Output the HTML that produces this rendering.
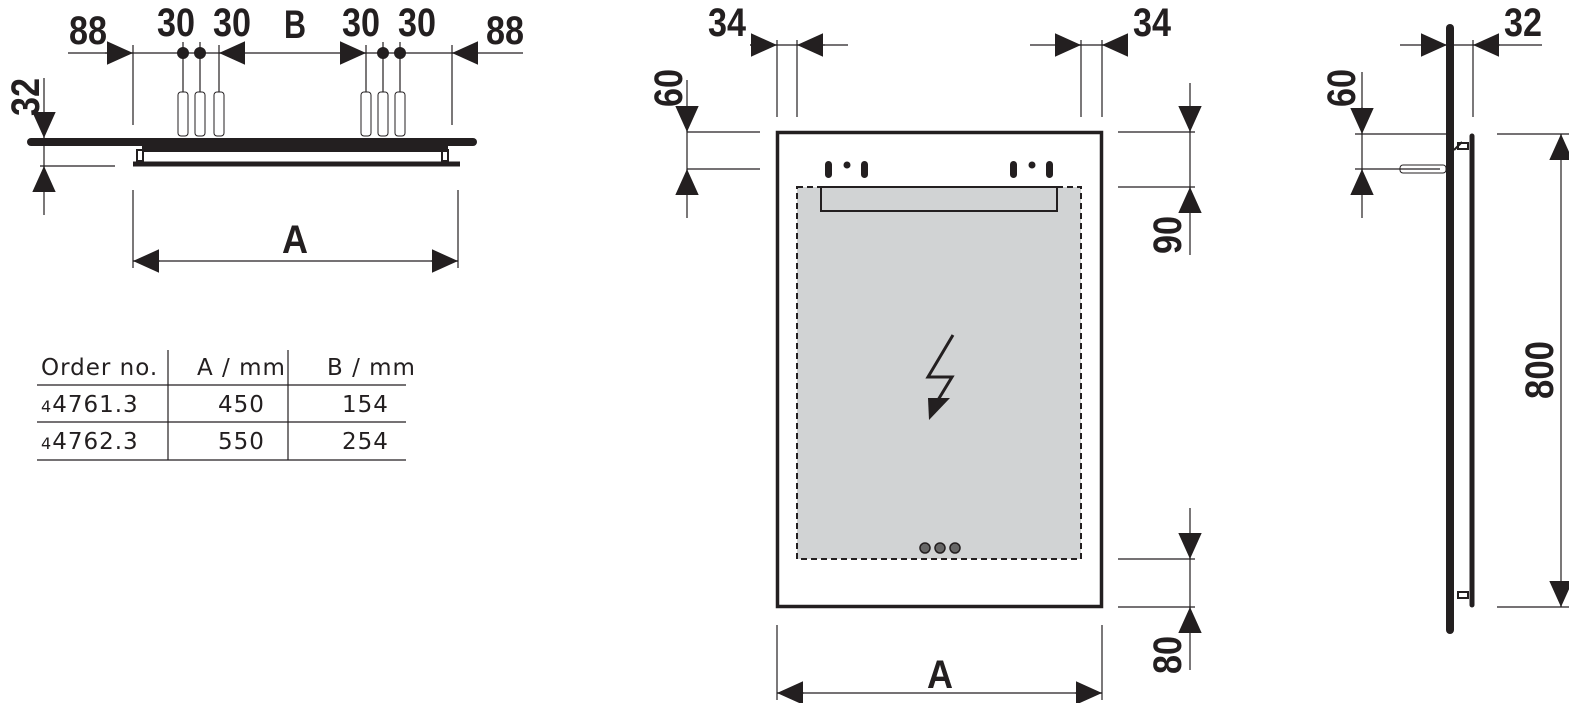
<!DOCTYPE html>
<html><head><meta charset="utf-8"><style>
html,body{margin:0;padding:0;background:#fff;}
svg{display:block}
.d{font-family:"Liberation Sans",sans-serif;font-weight:bold;font-size:40px;fill:#231f20}
.t{font-family:"DejaVu Sans","Liberation Sans",sans-serif;font-size:23px;fill:#231f20;letter-spacing:1px}
.l{stroke:#231f20;stroke-width:1.2;fill:none}
</style></head><body>
<svg width="1569" height="703" viewBox="0 0 1569 703" xmlns="http://www.w3.org/2000/svg">
<defs>
<marker id="a" viewBox="0 0 10 10" refX="10" refY="5" markerWidth="26" markerHeight="26" markerUnits="userSpaceOnUse" orient="auto"><path d="M0,0.5L10,5L0,9.5z" fill="#231f20"/></marker>
</defs>
<g stroke="#231f20" fill="#231f20">
<!-- LEFT VIEW -->
<g class="l">
<line x1="68" y1="53" x2="523" y2="53"/>
<line x1="133" y1="45" x2="133" y2="125"/>
<line x1="219" y1="45" x2="219" y2="125"/>
<line x1="366" y1="45" x2="366" y2="125"/>
<line x1="452" y1="45" x2="452" y2="125"/>
<line x1="183" y1="42" x2="183" y2="130"/>
<line x1="200" y1="42" x2="200" y2="130"/>
<line x1="383" y1="42" x2="383" y2="130"/>
<line x1="400" y1="42" x2="400" y2="130"/>
<line x1="44" y1="78" x2="44" y2="215"/>
<line x1="40" y1="166" x2="115" y2="166"/>
<line x1="133" y1="190" x2="133" y2="268"/>
<line x1="458" y1="190" x2="458" y2="268"/>
<line x1="133" y1="261" x2="458" y2="261"/>
</g>
<g class="l" stroke-width="1.5">
<line x1="105" y1="53" x2="133" y2="53" marker-end="url(#a)"/>
<line x1="245" y1="53" x2="219" y2="53" marker-end="url(#a)"/>
<line x1="340" y1="53" x2="366" y2="53" marker-end="url(#a)"/>
<line x1="478" y1="53" x2="452" y2="53" marker-end="url(#a)"/>
<line x1="44" y1="112" x2="44" y2="138" marker-end="url(#a)"/>
<line x1="44" y1="192" x2="44" y2="166" marker-end="url(#a)"/>
<line x1="160" y1="261" x2="133" y2="261" marker-end="url(#a)"/>
<line x1="431" y1="261" x2="458" y2="261" marker-end="url(#a)"/>
</g>
<circle cx="183" cy="53" r="5.5"/><circle cx="200" cy="53" r="5.5"/>
<circle cx="383" cy="53" r="5.5"/><circle cx="400" cy="53" r="5.5"/>
<g fill="#fff" stroke-width="1">
<rect x="178" y="92" width="10" height="44" rx="3"/>
<rect x="195" y="92" width="10" height="44" rx="3"/>
<rect x="214" y="92" width="10" height="44" rx="3"/>
<rect x="361" y="92" width="10" height="44" rx="3"/>
<rect x="378" y="92" width="10" height="44" rx="3"/>
<rect x="395" y="92" width="10" height="44" rx="3"/>
</g>
<line x1="31" y1="142" x2="473" y2="142" stroke-width="8" stroke-linecap="round"/>
<rect x="142" y="145" width="306" height="7" stroke="none"/>
<rect x="137" y="150" width="6" height="11" fill="none" stroke-width="2"/>
<rect x="442" y="150" width="6" height="11" fill="none" stroke-width="2"/>
<line x1="133" y1="164" x2="460" y2="164" stroke-width="5"/>

<!-- TABLE -->
<g class="l" stroke-width="1.5">
<line x1="37" y1="385" x2="406" y2="385"/>
<line x1="37" y1="422" x2="406" y2="422"/>
<line x1="37" y1="460" x2="406" y2="460"/>
<line x1="168" y1="350" x2="168" y2="460"/>
<line x1="288" y1="350" x2="288" y2="460"/>
</g>

<!-- MIDDLE VIEW -->
<rect x="797" y="187" width="284" height="372" fill="#d1d3d4" stroke-width="2" stroke-dasharray="6,4"/>
<rect x="821" y="187" width="236" height="24" fill="#d1d3d4" stroke-width="2"/>
<rect x="777.5" y="132.5" width="324" height="474" fill="none" stroke-width="3.5"/>
<g stroke="none">
<rect x="825" y="161" width="7" height="17" rx="3.5"/><circle cx="847" cy="165" r="3.5"/><rect x="861" y="161" width="7" height="17" rx="3.5"/>
<rect x="1010" y="161" width="7" height="17" rx="3.5"/><circle cx="1032" cy="165" r="3.5"/><rect x="1046" y="161" width="7" height="17" rx="3.5"/>
<polygon points="928,398 950,398 929,420"/>
</g>
<polyline points="953,335 928,377 952,377 938,400" fill="none" stroke-width="3"/>
<g fill="#666" stroke-width="1.5"><circle cx="925" cy="548" r="5"/><circle cx="940" cy="548" r="5"/><circle cx="955" cy="548" r="5"/></g>
<g class="l">
<line x1="777" y1="40" x2="777" y2="117"/><line x1="797" y1="40" x2="797" y2="117"/>
<line x1="750" y1="45" x2="848" y2="45"/>
<line x1="1081" y1="40" x2="1081" y2="117"/><line x1="1102" y1="40" x2="1102" y2="117"/>
<line x1="1030" y1="45" x2="1128" y2="45"/>
<line x1="687" y1="80" x2="687" y2="218"/>
<line x1="687" y1="132" x2="760" y2="132"/><line x1="687" y1="169" x2="760" y2="169"/>
<line x1="1190" y1="83" x2="1190" y2="255"/>
<line x1="1118" y1="132" x2="1195" y2="132"/><line x1="1118" y1="187" x2="1195" y2="187"/>
<line x1="1190" y1="508" x2="1190" y2="670"/>
<line x1="1118" y1="559" x2="1195" y2="559"/><line x1="1118" y1="607" x2="1195" y2="607"/>
<line x1="777" y1="625" x2="777" y2="700"/><line x1="1102" y1="625" x2="1102" y2="700"/>
<line x1="777" y1="693" x2="1102" y2="693"/>
</g>
<g class="l" stroke-width="1.5">
<line x1="750" y1="45" x2="777" y2="45" marker-end="url(#a)"/>
<line x1="825" y1="45" x2="797" y2="45" marker-end="url(#a)"/>
<line x1="1055" y1="45" x2="1081" y2="45" marker-end="url(#a)"/>
<line x1="1128" y1="45" x2="1102" y2="45" marker-end="url(#a)"/>
<line x1="687" y1="107" x2="687" y2="132" marker-end="url(#a)"/>
<line x1="687" y1="194" x2="687" y2="169" marker-end="url(#a)"/>
<line x1="1190" y1="107" x2="1190" y2="132" marker-end="url(#a)"/>
<line x1="1190" y1="212" x2="1190" y2="187" marker-end="url(#a)"/>
<line x1="1190" y1="534" x2="1190" y2="559" marker-end="url(#a)"/>
<line x1="1190" y1="632" x2="1190" y2="607" marker-end="url(#a)"/>
<line x1="804" y1="693" x2="777" y2="693" marker-end="url(#a)"/>
<line x1="1075" y1="693" x2="1102" y2="693" marker-end="url(#a)"/>
</g>

<!-- RIGHT VIEW -->
<line x1="1450" y1="28" x2="1450" y2="630" stroke-width="8" stroke-linecap="round"/>
<line x1="1472" y1="136" x2="1472" y2="605" stroke-width="5" stroke-linecap="round"/>
<rect x="1458" y="143" width="10" height="6" fill="none" stroke-width="2"/>
<rect x="1458" y="592" width="10" height="6" fill="none" stroke-width="2"/>
<line x1="1454" y1="150" x2="1462" y2="142" stroke-width="2"/>
<rect x="1400" y="165" width="46" height="8" rx="3" fill="#fff" stroke-width="1"/>
<g class="l">
<line x1="1400" y1="45" x2="1542" y2="45"/>
<line x1="1473" y1="40" x2="1473" y2="117"/>
<line x1="1362" y1="72" x2="1362" y2="218"/>
<line x1="1355" y1="134" x2="1448" y2="134"/>
<line x1="1355" y1="169" x2="1440" y2="169"/>
<line x1="1497" y1="134" x2="1569" y2="134"/>
<line x1="1497" y1="607" x2="1569" y2="607"/>
<line x1="1561" y1="134" x2="1561" y2="607"/>
</g>
<g class="l" stroke-width="1.5">
<line x1="1421" y1="45" x2="1447" y2="45" marker-end="url(#a)"/>
<line x1="1500" y1="45" x2="1473" y2="45" marker-end="url(#a)"/>
<line x1="1362" y1="107" x2="1362" y2="134" marker-end="url(#a)"/>
<line x1="1362" y1="194" x2="1362" y2="169" marker-end="url(#a)"/>
<line x1="1561" y1="160" x2="1561" y2="134" marker-end="url(#a)"/>
<line x1="1561" y1="581" x2="1561" y2="607" marker-end="url(#a)"/>
</g>
</g>

<!-- DIMENSION TEXT -->
<g class="d" text-anchor="middle">
<text x="88" y="44" textLength="38" lengthAdjust="spacingAndGlyphs">88</text>
<text x="176" y="36" textLength="38" lengthAdjust="spacingAndGlyphs">30</text>
<text x="232" y="36" textLength="38" lengthAdjust="spacingAndGlyphs">30</text>
<text x="295" y="38" textLength="22" lengthAdjust="spacingAndGlyphs">B</text>
<text x="361" y="36" textLength="38" lengthAdjust="spacingAndGlyphs">30</text>
<text x="417" y="36" textLength="38" lengthAdjust="spacingAndGlyphs">30</text>
<text x="505" y="44" textLength="38" lengthAdjust="spacingAndGlyphs">88</text>
<text x="295" y="253" textLength="26" lengthAdjust="spacingAndGlyphs">A</text>
<text x="727" y="36" textLength="38" lengthAdjust="spacingAndGlyphs">34</text>
<text x="1152" y="36" textLength="38" lengthAdjust="spacingAndGlyphs">34</text>
<text x="1523" y="36" textLength="38" lengthAdjust="spacingAndGlyphs">32</text>
<text x="940" y="688" textLength="26" lengthAdjust="spacingAndGlyphs">A</text>
<text transform="translate(39,97) rotate(-90)" textLength="38" lengthAdjust="spacingAndGlyphs">32</text>
<text transform="translate(682,88) rotate(-90)" textLength="38" lengthAdjust="spacingAndGlyphs">60</text>
<text transform="translate(1181,235) rotate(-90)" textLength="38" lengthAdjust="spacingAndGlyphs">90</text>
<text transform="translate(1181,655) rotate(-90)" textLength="38" lengthAdjust="spacingAndGlyphs">80</text>
<text transform="translate(1355,88) rotate(-90)" textLength="38" lengthAdjust="spacingAndGlyphs">60</text>
<text transform="translate(1553,370) rotate(-90)" textLength="58" lengthAdjust="spacingAndGlyphs">800</text>
</g>
<g class="t">
<text x="41" y="375">Order no.</text>
<text x="197" y="375">A / mm</text>
<text x="327" y="375">B / mm</text>
<text x="41" y="412"><tspan font-size="16">4</tspan>4761.3</text>
<text x="218" y="412">450</text>
<text x="342" y="412">154</text>
<text x="41" y="449"><tspan font-size="16">4</tspan>4762.3</text>
<text x="218" y="449">550</text>
<text x="342" y="449">254</text>
</g>
</svg>
</body></html>
